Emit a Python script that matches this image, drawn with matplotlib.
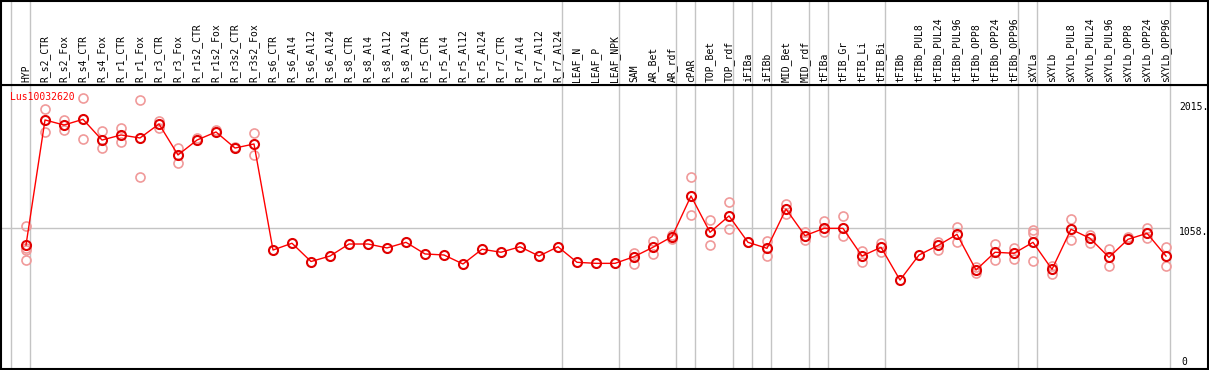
import matplotlib
matplotlib.use("Agg")
import matplotlib.pyplot as plt

W, H = 1209, 370

labels = ["HYP", "R_s2_CTR", "R_s2_Fox", "R_s4_CTR", "R_s4_Fox", "R_r1_CTR", "R_r1_Fox",
          "R_r3_CTR", "R_r3_Fox", "R_r1s2_CTR", "R_r1s2_Fox", "R_r3s2_CTR", "R_r3s2_Fox",
          "R_s6_CTR", "R_s6_Al4", "R_s6_Al12", "R_s6_Al24", "R_s8_CTR", "R_s8_Al4",
          "R_s8_Al12", "R_s8_Al24", "R_r5_CTR", "R_r5_Al4", "R_r5_Al12", "R_r5_Al24",
          "R_r7_CTR", "R_r7_Al4", "R_r7_Al12", "R_r7_Al24", "LEAF_N", "LEAF_P", "LEAF_NPK",
          "SAM", "AR_Bet", "AR_rdf", "cPAR", "TOP_Bet", "TOP_rdf", "iFIBa", "iFIBb",
          "MID_Bet", "MID_rdf", "tFIBa", "tFIB_Gr", "tFIB_Li", "tFIB_Bi", "tFIBb",
          "tFIBb_PUL8", "tFIBb_PUL24", "tFIBb_PUL96", "tFIBb_OPP8", "tFIBb_OPP24",
          "tFIBb_OPP96", "sXYLa", "sXYLb", "sXYLb_PUL8", "sXYLb_PUL24", "sXYLb_PUL96",
          "sXYLb_OPP8", "sXYLb_OPP24", "sXYLb_OPP96"]

means = [926, 1884, 1845, 1889, 1730, 1769, 1746, 1853, 1616, 1730, 1792, 1669, 1700,
         888, 940, 800, 842, 934, 934, 904, 947, 858, 850, 781, 894, 871, 913, 842, 913,
         794, 786, 786, 837, 909, 990, 1302, 1024, 1149, 947, 901, 1202, 998,
         1054, 1054, 842, 909, 658, 850, 923, 1008, 735, 871, 863,
         947, 740, 1047, 978, 832, 970, 1016, 842]

replicates = [[1074, 904, 888, 812], [1968, 1794], [1884, 1807], [2050, 1736], [1799, 1669],
              [1822, 1715], [2037, 1449], [1878, 1822], [1669, 1557], [1746], [1807], [1679],
              [1784, 1616],
              [], [], [], [], [], [], [], [], [], [], [], [], [], [], [], [],
              [], [], [],
              [863, 781], [957, 855], [1003, 972], [1444, 1156], [1118, 926], [1253, 1047],
              [949], [957, 845], [1238, 1162], [1024, 965],
              [1113, 1028], [1149, 995], [880, 799], [940, 871], [], [], [947, 888],
              [1067, 952], [760, 714], [934, 812], [906, 819],
              [1041, 1016, 807], [766, 702], [1124, 965], [1003, 940], [894, 766], [985],
              [1058, 978], [909, 768]]

gene = "Lus10032620"
ref_ticks = [2015, 1058, 0]
separators_after = [-1, 0, 28, 31, 34, 35, 37, 38, 39, 41, 42, 45, 52, 53, 60]

fig = plt.figure(figsize=(W / 100, H / 100), dpi=100)

left_px, right_px = 1, 1208
top_px, head_px, bot_px = 0.5, 85, 368.5
x0 = 26
dx = 19
xmin = (left_px - x0) / dx
xmax = (right_px - x0) / dx

ax = fig.add_axes([left_px / W, (H - bot_px) / H, (right_px - left_px) / W, (bot_px - head_px) / H])
hx = fig.add_axes([left_px / W, (H - head_px) / H, (right_px - left_px) / W, (head_px - top_px) / H], sharex=ax)

# y scale: 0 at px 366, 0.1306 px/unit
y_of = lambda py: (366 - py) / 0.1306
ax.set_ylim(y_of(bot_px), y_of(head_px))
ax.set_xlim(xmin, xmax)
hx.set_ylim(0, 1)

for a in (ax, hx):
    a.set_xticks([])
    a.set_yticks([])
    for s in a.spines.values():
        s.set_color("black")
        s.set_linewidth(1.5)

sep_x = [k + 0.2 for k in separators_after]
for a in (ax, hx):
    for sx in sep_x:
        a.axvline(sx, color="#c4c4c4", lw=1.0, zorder=1)

# horizontal reference line at 1058
ax.hlines(1058, xmin, sep_x[-1], color="#c4c4c4", lw=1.0, zorder=1)

mono = "DejaVu Sans Mono"
for i, lab in enumerate(labels):
    hx.text(i, 0.03, lab, rotation=90, ha="center", va="bottom", fontsize=7,
            family=mono, color="black")

xs = list(range(len(labels)))
for i, reps in enumerate(replicates):
    if reps:
        ax.plot([i] * len(reps), reps, linestyle="none", marker="o", markersize=6.5,
                markerfacecolor="none", markeredgecolor="#f09a9a", markeredgewidth=1.2, zorder=2)

ax.plot(xs, means, color="red", lw=1.0, marker="o", markersize=6.5,
        markerfacecolor="none", markeredgecolor="#e00000", markeredgewidth=1.5, zorder=3)

ax.text((10 - x0) / dx, y_of(97), gene, color="red", fontsize=7, family=mono,
        ha="left", va="center")

label_offsets = {2015: 4, 1058: 4, 0: -4}
for t in ref_ticks:
    py = 366 - t * 0.1306 + label_offsets[t]
    xpos = (1179 - x0) / dx if t else (1181 - x0) / dx
    ax.text(xpos, y_of(py), f"{t}." if t else "0", fontsize=7, family=mono,
            ha="left", va="center", color="black")

fig.savefig("out.png", dpi=100)
